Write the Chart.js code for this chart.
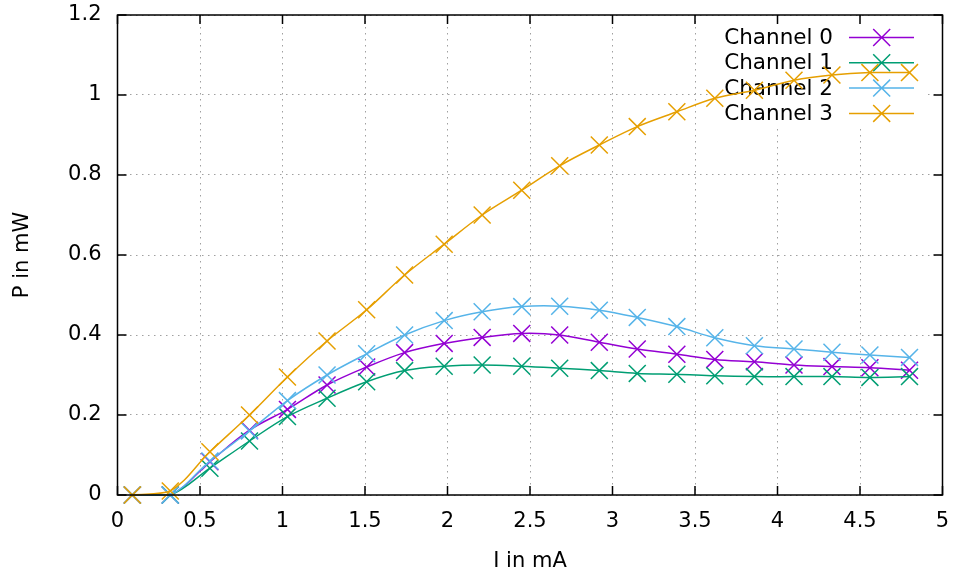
<!DOCTYPE html>
<html>
<head>
<meta charset="utf-8">
<script src="https://cdn.jsdelivr.net/npm/chart.js@4"></script>
<style>
  html, body { margin: 0; padding: 0; background: #fff; }
  #wrap { width: 956px; height: 576px; }
</style>
</head>
<body>
<div id="wrap"><canvas id="myChart" width="956" height="576"></canvas></div>
<script>
// current in mA
const current = [0.09, 0.32, 0.56, 0.80, 1.03, 1.27, 1.51, 1.74, 1.98, 2.21, 2.45,
                 2.68, 2.92, 3.15, 3.39, 3.62, 3.86, 4.10, 4.33, 4.56, 4.80];
// optical power in mW per channel
const channel0 = [0, 0, 0.083, 0.162, 0.214, 0.275, 0.320, 0.356, 0.379, 0.394, 0.404,
                  0.400, 0.382, 0.365, 0.352, 0.339, 0.333, 0.325, 0.321, 0.318, 0.312];
const channel1 = [0, 0, 0.067, 0.135, 0.196, 0.242, 0.283, 0.311, 0.322, 0.325, 0.322,
                  0.317, 0.311, 0.304, 0.302, 0.298, 0.296, 0.296, 0.296, 0.294, 0.296];
const channel2 = [0, 0, 0.085, 0.160, 0.236, 0.300, 0.353, 0.400, 0.436, 0.458, 0.471,
                  0.472, 0.462, 0.444, 0.421, 0.393, 0.373, 0.365, 0.357, 0.350, 0.344];
const channel3 = [0, 0.010, 0.108, 0.200, 0.295, 0.385, 0.463, 0.550, 0.627, 0.700, 0.762,
                  0.823, 0.875, 0.921, 0.958, 0.992, 1.012, 1.037, 1.050, 1.056, 1.056];

const seriesNames = ['Channel 0', 'Channel 1', 'Channel 2', 'Channel 3'];
const seriesColors = ['#9400d3', '#009e73', '#56b4e9', '#e69f00'];
const xTicks = [0, 0.5, 1, 1.5, 2, 2.5, 3, 3.5, 4, 4.5, 5];
const yTicks = [0, 0.2, 0.4, 0.6, 0.8, 1, 1.2];

const FONT = 'DejaVu Sans';

function toPoints(ys) {
    return current.map((x, i) => ({ x: x, y: ys[i] }));
}

function makeDataset(i, ys) {
    return {
        label: seriesNames[i],
        data: toPoints(ys),
        borderColor: seriesColors[i],
        backgroundColor: seriesColors[i],
        borderWidth: 1.5,
        tension: 0.35,
        pointStyle: 'crossRot',
        pointRadius: 12,
        pointBorderWidth: 1.5,
        pointHoverRadius: 12,
        fill: false,
        clip: false,
        order: 3 - i   // later channels on top
    };
}

// white key box, entries drawn under the curves
const keyPlugin = {
    id: 'key',
    beforeDatasetsDraw(chart) {
        const ctx = chart.ctx;
        ctx.save();
        ctx.fillStyle = '#fff';
        ctx.fillRect(712, 17, 216, 110);
        ctx.font = '21.5px "' + FONT + '"';
        ctx.textAlign = 'right';
        ctx.textBaseline = 'middle';
        seriesNames.forEach((name, i) => {
            const y = 37.5 + i * 25.3;
            ctx.fillStyle = '#000';
            ctx.fillText(name, 833, y + 1);
            ctx.strokeStyle = seriesColors[i];
            ctx.lineWidth = 1.5;
            ctx.beginPath();
            ctx.moveTo(849, y);
            ctx.lineTo(914, y);
            const d = 12 * Math.SQRT1_2;
            ctx.moveTo(881.7 - d, y - d);
            ctx.lineTo(881.7 + d, y + d);
            ctx.moveTo(881.7 - d, y + d);
            ctx.lineTo(881.7 + d, y - d);
            ctx.stroke();
        });
        ctx.restore();
    },
    afterDatasetsDraw(chart) {
        // frame with inward ticks on all four sides
        const { ctx, chartArea: a, scales } = chart;
        ctx.save();
        ctx.strokeStyle = '#000';
        ctx.lineWidth = 1.5;
        ctx.strokeRect(a.left, a.top, a.right - a.left, a.bottom - a.top);
        ctx.beginPath();
        xTicks.forEach(v => {
            const px = scales.x.getPixelForValue(v);
            ctx.moveTo(px, a.bottom); ctx.lineTo(px, a.bottom - 9);
            ctx.moveTo(px, a.top); ctx.lineTo(px, a.top + 9);
        });
        yTicks.forEach(v => {
            const py = scales.y.getPixelForValue(v);
            ctx.moveTo(a.left, py); ctx.lineTo(a.left + 9, py);
            ctx.moveTo(a.right, py); ctx.lineTo(a.right - 9, py);
        });
        ctx.stroke();
        ctx.restore();
    }
};

const ctx = document.getElementById('myChart').getContext('2d');
const myChart = new Chart(ctx, {
    type: 'line',
    data: {
        datasets: [
            makeDataset(0, channel0),
            makeDataset(1, channel1),
            makeDataset(2, channel2),
            makeDataset(3, channel3)
        ]
    },
    options: {
        responsive: false,
        animation: false,
        events: [],
        layout: { padding: { left: 0, right: 13.5, top: 15, bottom: 0 } },
        plugins: {
            legend: { display: false },
            tooltip: { enabled: false }
        },
        scales: {
            x: {
                type: 'linear',
                min: 0,
                max: 5,
                afterFit: s => {
                    s.height = 81;
                    s.paddingLeft = 0;
                    s.paddingRight = 0;
                },
                afterBuildTicks: s => { s.ticks = xTicks.map(v => ({ value: v })); },
                grid: { color: '#a0a0a0', lineWidth: 1, drawTicks: false },
                border: { display: false, dash: [1.5, 4.5] },
                ticks: {
                    padding: 14,
                    color: '#000',
                    font: { family: FONT, size: 21 },
                    callback: v => String(v)
                },
                title: {
                    display: true,
                    text: 'I in mA',
                    color: '#000',
                    font: { family: FONT, size: 21 },
                    padding: { top: 4, bottom: 2 }
                }
            },
            y: {
                type: 'linear',
                min: 0,
                max: 1.2,
                afterFit: s => {
                    s.width = 117.5;
                    s.paddingTop = 0;
                    s.paddingBottom = 0;
                },
                afterBuildTicks: s => { s.ticks = yTicks.map(v => ({ value: v })); },
                grid: { color: '#a0a0a0', lineWidth: 1, drawTicks: false },
                border: { display: false, dash: [1.5, 4.5] },
                ticks: {
                    padding: 16,
                    color: '#000',
                    font: { family: FONT, size: 21 },
                    callback: v => String(v)
                },
                title: {
                    display: true,
                    text: 'P in mW',
                    color: '#000',
                    font: { family: FONT, size: 21 },
                    padding: { top: 10, bottom: 4 }
                }
            }
        }
    },
    plugins: [keyPlugin]
});
</script>
</body>
</html>
